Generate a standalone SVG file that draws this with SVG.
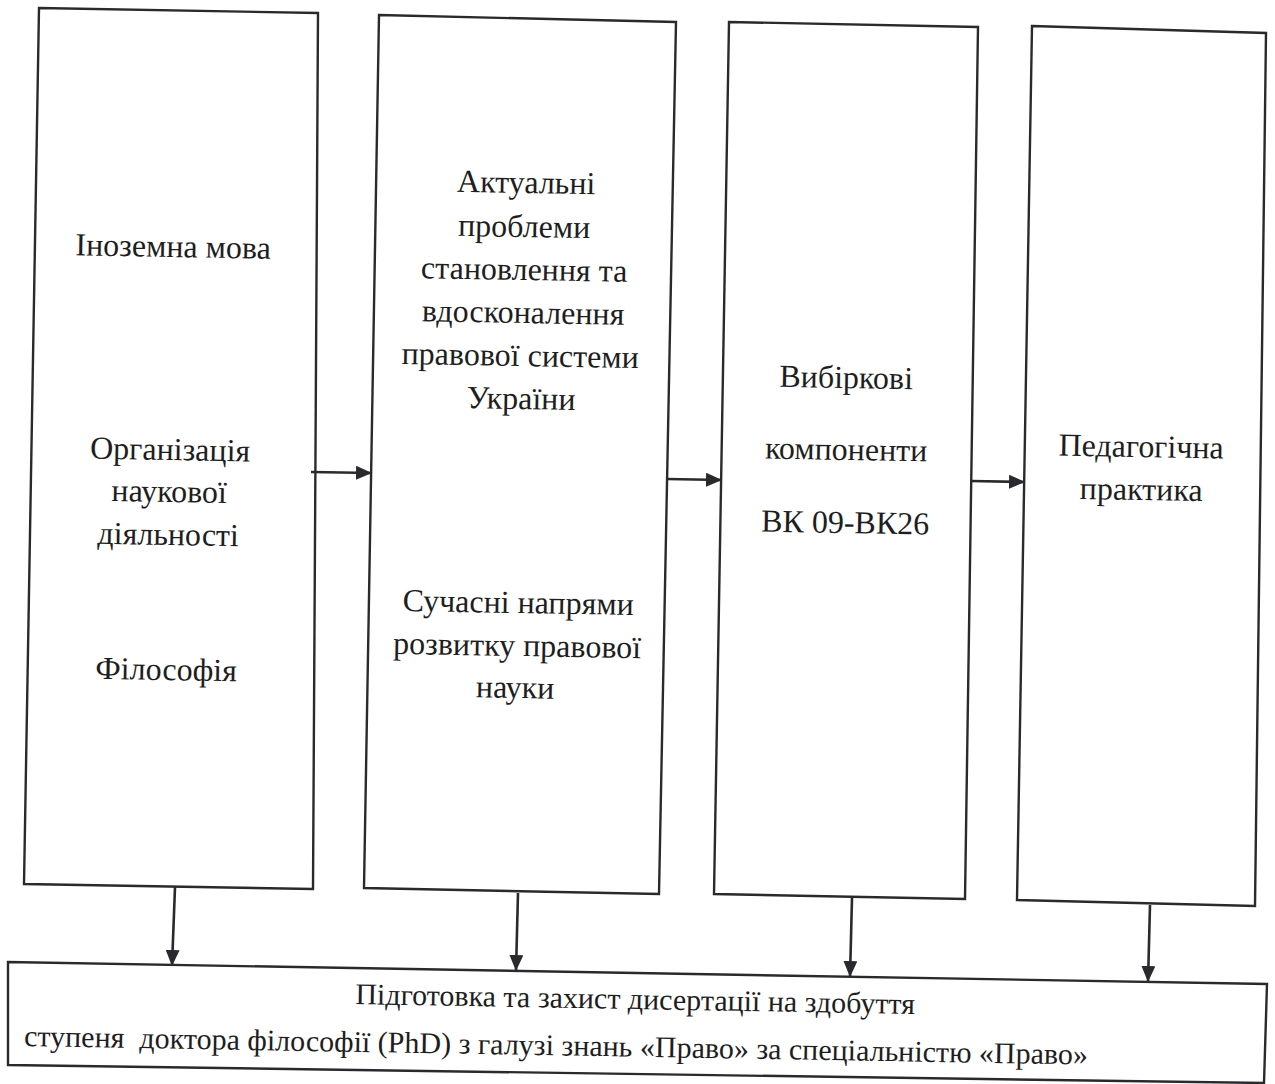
<svg xmlns="http://www.w3.org/2000/svg" width="1275" height="1084" viewBox="0 0 1275 1084">
<style>
.box{fill:#fff;stroke:#2a2a2e;stroke-width:2.4}
.ln{stroke:#2a2a2e;stroke-width:2.6;fill:none}
text{font-family:"Liberation Serif","Times New Roman",serif;font-size:32px;fill:#1e1e22}
.c{text-anchor:middle}
.b{font-size:30px}
</style>
<defs>
<marker id="a" viewBox="0 0 16 14" refX="16" refY="7" markerWidth="16" markerHeight="14" markerUnits="userSpaceOnUse" orient="auto">
<path d="M0,0 L16,7 L0,14 z" fill="#2a2a2e"/>
</marker>
</defs>
<rect width="1275" height="1084" fill="#fff"/>
<g id="box1">
<path class="box" d="M39,8 L318,13 L313,889 L24,884 Z"/>
<text class="c" x="173" y="257" transform="rotate(1 173 257)">Іноземна мова</text>
<text class="c" x="170" y="460" transform="rotate(1 170 460)">Організація</text>
<text class="c" x="169" y="502" transform="rotate(1 169 502)">наукової</text>
<text class="c" x="168" y="545" transform="rotate(1 168 545)">діяльності</text>
<text class="c" x="166" y="680" transform="rotate(1 166 680)">Філософія</text>
</g>
<g id="box2">
<path class="box" d="M379,15 L676,22 L659,894 L364,888 Z"/>
<text class="c" x="526" y="193" transform="rotate(1 526 193)">Актуальні</text>
<text class="c" x="524" y="237" transform="rotate(1 524 237)">проблеми</text>
<text class="c" x="524" y="280" transform="rotate(1 524 280)">становлення та</text>
<text class="c" x="523" y="323" transform="rotate(1 523 323)">вдосконалення</text>
<text class="c" x="520" y="366" transform="rotate(1 520 366)">правової системи</text>
<text class="c" x="521" y="409" transform="rotate(1 521 409)">України</text>
<text class="c" x="518" y="613" transform="rotate(1 518 613)">Сучасні напрями</text>
<text class="c" x="517" y="656" transform="rotate(1 517 656)">розвитку правової</text>
<text class="c" x="515" y="698" transform="rotate(1 515 698)">науки</text>
</g>
<g id="box3">
<path class="box" d="M729,22 L978,27 L965,899 L714,894 Z"/>
<text class="c" x="846" y="388" transform="rotate(1 846 388)">Вибіркові</text>
<text class="c" x="846" y="460" transform="rotate(1 846 460)">компоненти</text>
<text class="c" x="845" y="533" transform="rotate(1 845 533)">ВК 09-ВК26</text>
</g>
<g id="box4">
<path class="box" d="M1032,26 L1266,33 L1255,906 L1017,900 Z"/>
<text class="c" x="1141" y="457" transform="rotate(1 1141 457)">Педагогічна</text>
<text class="c" x="1141" y="500" transform="rotate(1 1141 500)">практика</text>
</g>
<g id="bottom">
<path class="box" d="M8,962 L1267,984 L1264,1083 L8,1065 Z"/>
<text class="c b" x="635" y="1009" transform="rotate(1 635 1009)">Підготовка та захист дисертації на здобуття</text>
<text class="b" x="24" y="1046" transform="rotate(1 24 1046)" xml:space="preserve">ступеня  доктора філософії (PhD) з галузі знань «Право» за спеціальністю «Право»</text>
</g>
<g id="connectors">
<line class="ln" x1="311" y1="472" x2="372" y2="473" marker-end="url(#a)"/>
<line class="ln" x1="667" y1="479" x2="722" y2="480" marker-end="url(#a)"/>
<line class="ln" x1="971" y1="481" x2="1025" y2="482" marker-end="url(#a)"/>
<line class="ln" x1="175" y1="887" x2="172" y2="966" marker-end="url(#a)"/>
<line class="ln" x1="518" y1="893" x2="516" y2="971" marker-end="url(#a)"/>
<line class="ln" x1="852" y1="898" x2="850" y2="977" marker-end="url(#a)"/>
<line class="ln" x1="1150" y1="905" x2="1148" y2="982" marker-end="url(#a)"/>
</g>
</svg>
